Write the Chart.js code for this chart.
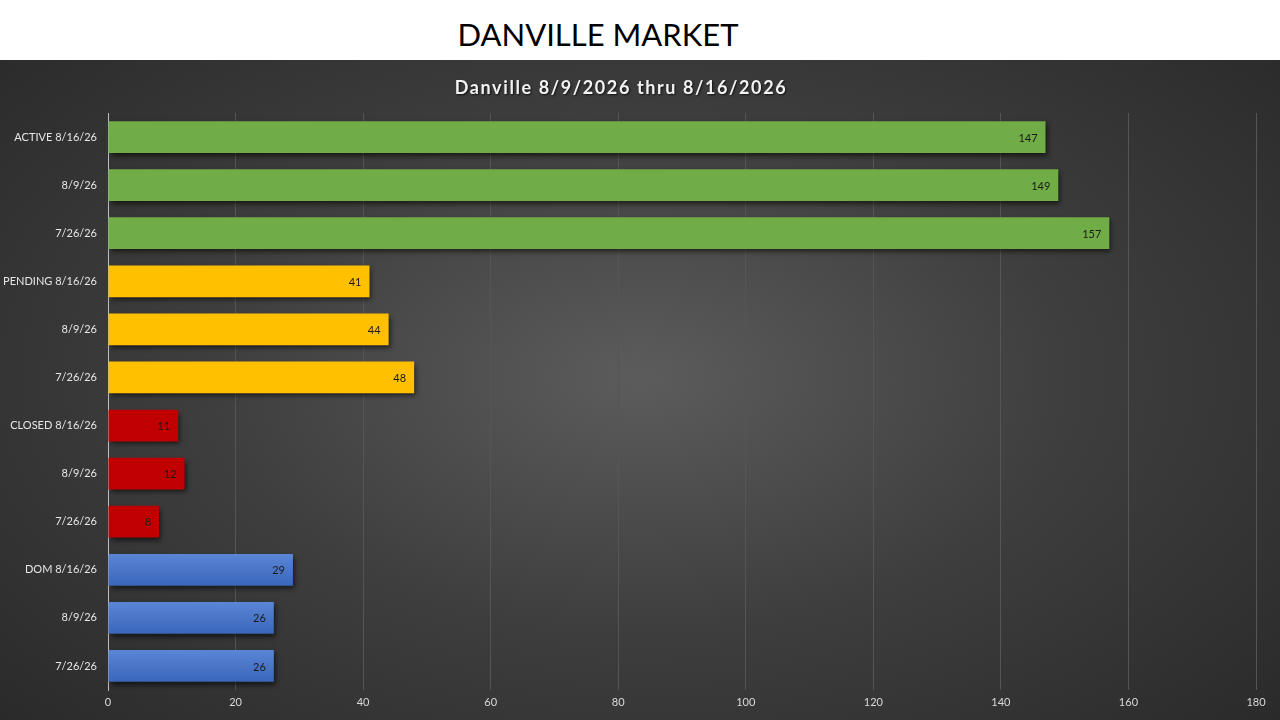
<!DOCTYPE html>
<html>
<head>
<meta charset="utf-8">
<script src="https://cdn.jsdelivr.net/npm/chart.js@4.4.1/dist/chart.umd.min.js"></script>
<style>
  html, body { margin: 0; padding: 0; width: 1280px; height: 720px; overflow: hidden; font-family: Lato, sans-serif; }
  #header { position: absolute; left: 0; top: 0; width: 1280px; height: 60px; background: #fff; }
  #header span { position: absolute; left: 598px; top: 15px; transform: translateX(-50%); font-size: 31px; color: #000; white-space: nowrap; }
  #panel { position: absolute; left: 0; top: 60px; width: 1280px; height: 660px;
    background: radial-gradient(ellipse 75% 85% at 50% 48%, #5c5c5c 0%, #3e3e3e 45%, #262626 100%); }
  #chart { position: absolute; left: 0; top: 0; }
</style>
</head>
<body>
<div id="header"><span>DANVILLE MARKET</span></div>
<div id="panel"><canvas id="chart" width="1280" height="660"></canvas></div>
<script>
const chartTitle = 'Danville 8/9/2026 thru 8/16/2026';
const categories = [
  'ACTIVE 8/16/26', '8/9/26', '7/26/26',
  'PENDING 8/16/26', '8/9/26', '7/26/26',
  'CLOSED 8/16/26', '8/9/26', '7/26/26',
  'DOM 8/16/26', '8/9/26', '7/26/26'
];
const values = [147, 149, 157, 41, 44, 48, 11, 12, 8, 29, 26, 26];
const groupColors = ['#70AD47', '#FFC000', '#C00000', '#4472C4'];
const barColors = categories.map((c, i) => groupColors[Math.floor(i / 3)]);

// spaced-out title with a small shadow, like the office chart style
const spacedTitle = {
  id: 'spacedTitle',
  afterDraw(chart) {
    const ctx = chart.ctx;
    ctx.save();
    ctx.font = 'bold 18px Lato, sans-serif';
    ctx.letterSpacing = '1.6px';
    ctx.fillStyle = '#f2f2f2';
    ctx.textAlign = 'center';
    ctx.textBaseline = 'middle';
    ctx.shadowColor = 'rgba(0,0,0,0.7)';
    ctx.shadowBlur = 2;
    ctx.shadowOffsetX = 1;
    ctx.shadowOffsetY = 1;
    ctx.fillText(chartTitle, 621, 28);
    ctx.restore();
  }
};

// soft drop shadow under the bars
const barShadow = {
  id: 'barShadow',
  beforeDatasetsDraw(chart) {
    const ctx = chart.ctx;
    ctx.save();
    ctx.shadowColor = 'rgba(0,0,0,0.6)';
    ctx.shadowBlur = 5;
    ctx.shadowOffsetX = 2;
    ctx.shadowOffsetY = 3;
  },
  afterDatasetsDraw(chart) {
    chart.ctx.restore();
  }
};

// value labels at the inside end of each bar
const valueLabels = {
  id: 'valueLabels',
  afterDatasetsDraw(chart) {
    const ctx = chart.ctx;
    const meta = chart.getDatasetMeta(0);
    ctx.save();
    ctx.font = '11px Lato, sans-serif';
    ctx.fillStyle = '#1a1a1a';
    ctx.textAlign = 'right';
    ctx.textBaseline = 'middle';
    meta.data.forEach((bar, i) => {
      ctx.fillText(String(values[i]), bar.x - 8, bar.y + 1);
    });
    ctx.restore();
  }
};

function blueFill(context) {
  const i = context.dataIndex;
  if (Math.floor(i / 3) !== 3) return barColors[i];
  const chart = context.chart;
  const yScale = chart.scales.y;
  if (!chart.chartArea || !yScale) return barColors[i];
  const cy = yScale.getPixelForValue(i);
  const h = yScale.height / categories.length * 0.66;
  if (!Number.isFinite(cy) || !Number.isFinite(h)) return barColors[i];
  const g = chart.ctx.createLinearGradient(0, cy - h / 2, 0, cy + h / 2);
  g.addColorStop(0, '#5B86D6');
  g.addColorStop(1, '#3A66BA');
  return g;
}

new Chart(document.getElementById('chart'), {
  type: 'bar',
  data: {
    labels: categories,
    datasets: [{
      data: values,
      backgroundColor: blueFill,
      borderWidth: 0,
      categoryPercentage: 1,
      barPercentage: 0.66
    }]
  },
  options: {
    indexAxis: 'y',
    responsive: false,
    animation: false,
    layout: { padding: { left: 0, right: 24, top: 53, bottom: 0 } },
    plugins: {
      legend: { display: false },
      tooltip: { enabled: false },
      title: { display: false }
    },
    scales: {
      x: {
        min: 0,
        max: 180,
        ticks: { stepSize: 20, color: '#d9d9d9', font: { family: 'Lato, sans-serif', size: 11 }, padding: 6 },
        grid: { color: '#555555', lineWidth: 1, drawTicks: false },
        border: { display: false },
        afterFit(scale) { scale.height = 30; }
      },
      y: {
        ticks: { color: '#e6e6e6', font: { family: 'Lato, sans-serif', size: 11 }, padding: 11 },
        grid: { display: false, drawTicks: false },
        border: { display: true, color: '#bfbfbf', width: 1 },
        afterFit(scale) { scale.width = 108; }
      }
    }
  },
  plugins: [spacedTitle, barShadow, valueLabels]
});
</script>
</body>
</html>
